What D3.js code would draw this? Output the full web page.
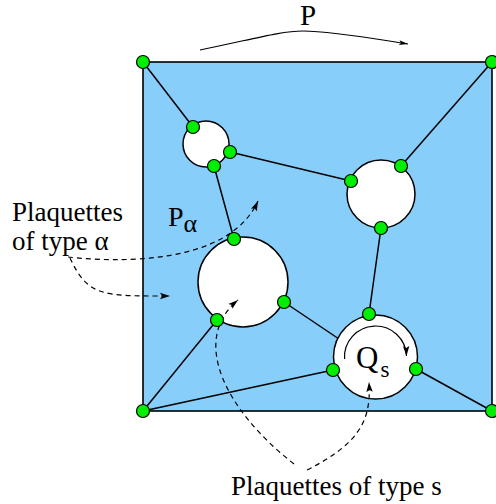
<!DOCTYPE html>
<html>
<head>
<meta charset="utf-8">
<script src="https://cdn.jsdelivr.net/npm/d3@7"></script>
</head>
<body style="margin:0">
<svg id="fig" width="496" height="504" font-family="Liberation Serif"></svg>
<script>
// all positions in square units: (0,0) top-left corner, (349,349) bottom-right
const squareSize = 349;

// holes: cx, cy, r
const holes = [
    {id: 'a1', cx: 63, cy: 82, r: 23},
    {id: 'a2', cx: 238, cy: 132, r: 34},
    {id: 'a3', cx: 100, cy: 220, r: 45},
    {id: 's', cx: 232.5, cy: 295, r: 42}
];

// green vertices
const vertices = [
    [0, 0], [349, 0], [0, 349], [349, 349],
    [50, 65], [87, 90], [71, 104],
    [258, 104], [208, 119], [238, 166],
    [91, 177], [141, 240], [74, 258],
    [226, 252], [190, 308], [273, 307]
];

// edges between vertices (last one ends on the Q_s boundary)
const edges = [
    [[0, 0], [50, 65]],
    [[349, 0], [258, 104]],
    [[87, 90], [208, 119]],
    [[71, 104], [91, 177]],
    [[238, 166], [226, 252]],
    [[141, 240], [196, 277]],
    [[74, 258], [0, 349]],
    [[0, 349], [190, 308]],
    [[273, 307], [349, 349]]
];

// dashed pointer curves: start, control1, control2, end
const pointers = [
    [[-75, 195], [-30, 200], [85, 205], [115, 139]],
    [[-73, 196], [-55, 235], [-40, 234], [27, 234]],
    [[151, 402], [82, 348], [47, 278], [95, 238]],
    [[164, 408], [220, 380], [228, 355], [226, 320]]
];

// arrow over the square: two cubic pieces
const topArrow = [[57, -12], [107, -22], [137, -31], [160, -31], [187, -31], [227, -24], [265, -18]];

const svg = d3.select('#fig');
const serif = 'Liberation Serif';

const x = d3.scaleLinear().domain([0, squareSize]).range([143, 492]);
const y = d3.scaleLinear().domain([0, squareSize]).range([62, 411]);
const r = d3.scaleLinear().domain([0, squareSize]).range([0, 349]);

const defs = svg.append('defs');
defs.append('marker')
    .attr('id', 'solid')
    .attr('markerUnits', 'userSpaceOnUse')
    .attr('viewBox', '-10 -4 11 8')
    .attr('refX', 0)
    .attr('refY', 0)
    .attr('markerWidth', 11)
    .attr('markerHeight', 8)
    .attr('orient', 'auto')
    .append('path')
    .attr('d', 'M-10,-3.2 L0,0 L-10,3.2 L-8,0 Z')
    .attr('fill', '#000');

defs.append('marker')
    .attr('id', 'open')
    .attr('markerUnits', 'userSpaceOnUse')
    .attr('viewBox', '-10 -4 11 8')
    .attr('refX', 0)
    .attr('refY', 0)
    .attr('markerWidth', 11)
    .attr('markerHeight', 8)
    .attr('orient', 'auto')
    .append('path')
    .attr('d', 'M-9,-2.5 L0,0 L-9,2.5 L-7,0 Z')
    .attr('fill', '#000');

// the square P
svg.append('rect')
    .attr('x', x(0))
    .attr('y', y(0))
    .attr('width', r(squareSize))
    .attr('height', r(squareSize))
    .attr('fill', '#87cefa')
    .attr('stroke', '#000')
    .attr('stroke-width', 1.6);

svg.append('g')
    .selectAll('line')
    .data(edges)
    .join('line')
    .attr('x1', d => x(d[0][0]))
    .attr('y1', d => y(d[0][1]))
    .attr('x2', d => x(d[1][0]))
    .attr('y2', d => y(d[1][1]))
    .attr('stroke', '#000')
    .attr('stroke-width', 1.5);

svg.append('g')
    .selectAll('circle')
    .data(holes)
    .join('circle')
    .attr('cx', d => x(d.cx))
    .attr('cy', d => y(d.cy))
    .attr('r', d => r(d.r))
    .attr('fill', '#fff')
    .attr('stroke', '#000')
    .attr('stroke-width', 1.5);

const curve = d => `M${x(d[0][0])},${y(d[0][1])} C${x(d[1][0])},${y(d[1][1])} ${x(d[2][0])},${y(d[2][1])} ${x(d[3][0])},${y(d[3][1])}`;

svg.append('g')
    .selectAll('path')
    .data(pointers)
    .join('path')
    .attr('d', curve)
    .attr('fill', 'none')
    .attr('stroke', '#000')
    .attr('stroke-width', 1.2)
    .attr('stroke-dasharray', '5,4')
    .attr('marker-end', 'url(#solid)');

// rotation arrow inside Q_s
const qs = holes.find(d => d.id === 's');
const rot = d3.path();
rot.arc(x(qs.cx), y(qs.cy), r(31), Math.PI * 0.98, Math.PI * 1.99);
svg.append('path')
    .attr('d', rot.toString())
    .attr('fill', 'none')
    .attr('stroke', '#000')
    .attr('stroke-width', 1.2)
    .attr('marker-end', 'url(#solid)');

// arrow for P over the square
const ta = topArrow.map(p => `${x(p[0])},${y(p[1])}`);
svg.append('path')
    .attr('d', `M${ta[0]} C${ta[1]} ${ta[2]} ${ta[3]} C${ta[4]} ${ta[5]} ${ta[6]}`)
    .attr('fill', 'none')
    .attr('stroke', '#000')
    .attr('stroke-width', 1.1)
    .attr('marker-end', 'url(#open)');

svg.append('g')
    .selectAll('circle')
    .data(vertices)
    .join('circle')
    .attr('cx', d => x(d[0]))
    .attr('cy', d => y(d[1]))
    .attr('r', 6.5)
    .attr('fill', '#00ee00')
    .attr('stroke', '#000')
    .attr('stroke-width', 1.2);

// labels
const label = (tx, ty, size, txt) => svg.append('text')
    .attr('x', tx)
    .attr('y', ty)
    .attr('font-family', serif)
    .style('font-family', serif)
    .attr('font-size', size)
    .text(txt);

label(300, 25, 29, 'P');

const pa = label(168, 226, 28, 'P');
pa.append('tspan').attr('dy', 6).attr('font-size', 26).text('α');

label(12, 221, 27, 'Plaquettes');
label(12, 250, 27, 'of type α');

const q = label(356, 368, 31, 'Q');
q.append('tspan').attr('dx', 2).attr('dy', 9).attr('font-size', 23).text('s');

label(231, 495, 27, 'Plaquettes of type s');
</script>
</body>
</html>
